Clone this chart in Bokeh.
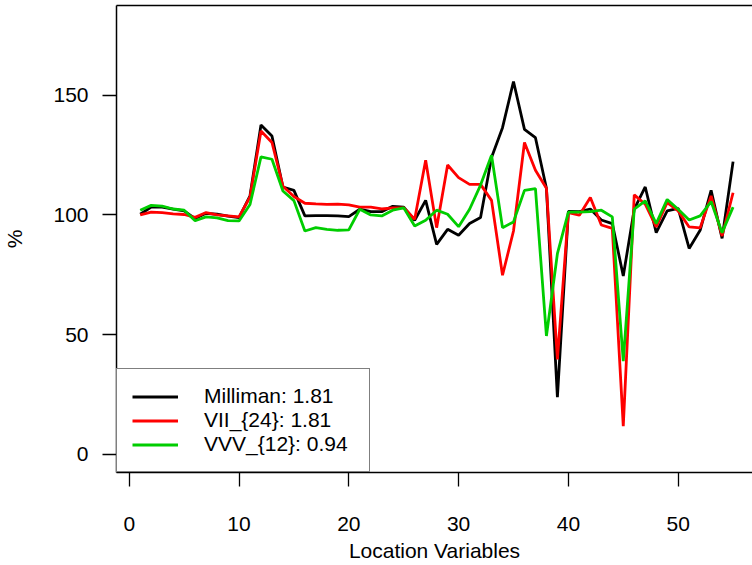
from bokeh.plotting import figure
from bokeh.models import Range1d, FixedTicker, LinearAxis, Legend, LegendItem
from bokeh.embed import file_html
from bokeh.resources import INLINE

x = list(range(1, 56))

milliman = [100.3, 103.3, 103.3, 102.4, 101.7, 98.5, 100.7, 100.3, 99.5, 98.9,
            108.0, 137.6, 133.0, 111.7, 110.3, 99.6, 99.7, 99.7, 99.6, 99.3,
            102.4, 101.4, 101.4, 103.6, 103.3, 97.8, 106.1, 87.7, 94.0, 91.5,
            96.4, 98.9, 124.0, 136.5, 155.8, 135.8, 132.3, 111.2, 23.8, 101.5,
            101.4, 102.5, 97.9, 96.4, 74.5, 102.4, 111.7, 92.6, 101.7, 102.8,
            86.0, 93.6, 110.3, 90.2, 122.3]

vii_24 = [100.0, 101.2, 101.0, 100.5, 100.2, 99.0, 101.0, 100.0, 99.6, 99.2,
          107.5, 135.1, 130.3, 112.0, 107.7, 104.9, 104.6, 104.4, 104.5, 104.2,
          103.3, 103.3, 102.5, 103.0, 103.0, 98.2, 122.9, 94.7, 120.9, 115.6,
          112.8, 112.8, 106.1, 74.8, 93.3, 130.3, 118.7, 111.2, 39.6, 101.0,
          99.9, 107.3, 95.8, 94.4, 11.7, 108.4, 104.5, 95.0, 105.2, 101.7,
          95.0, 94.6, 108.0, 91.2, 109.3]

vvv_12 = [102.0, 104.0, 103.7, 102.5, 102.0, 97.6, 99.2, 98.8, 97.6, 97.5,
          104.4, 124.3, 123.3, 110.0, 106.0, 93.3, 94.7, 94.0, 93.6, 93.8,
          102.4, 100.0, 99.6, 102.0, 103.0, 95.4, 97.8, 102.0, 100.3, 95.1,
          102.4, 112.5, 125.0, 94.7, 97.1, 110.3, 111.0, 49.4, 83.8, 101.2,
          101.2, 101.4, 102.0, 99.2, 38.9, 102.4, 105.9, 96.4, 106.5, 102.4,
          97.9, 99.6, 105.6, 92.6, 103.3]

labels = ["Milliman: 1.81", "VII_{24}: 1.81", "VVV_{12}: 0.94"]
colors = ["#000000", "#FF0000", "#00CD00"]
x_ticks = [0, 10, 20, 30, 40, 50]
y_ticks = [0, 50, 100, 150]

FONT = "Liberation Sans"
FS = "21px"

p = figure(width=752, height=565,
           x_range=Range1d(-1.16, 56.77), y_range=Range1d(-7.7, 187.6),
           output_backend="svg", toolbar_location=None,
           min_border_left=116, min_border_right=0,
           min_border_top=5, min_border_bottom=93)
p.xgrid.visible = False
p.ygrid.visible = False
p.outline_line_color = None
p.background_fill_color = "white"
p.border_fill_color = "white"

renderers = []
for series, col in zip([milliman, vii_24, vvv_12], colors):
    r = p.line(x, series, line_color=col, line_width=2.8)
    renderers.append(r)

for ax, ticks in ((p.xaxis[0], x_ticks), (p.yaxis[0], y_ticks)):
    ax.ticker = FixedTicker(ticks=ticks)
    ax.minor_tick_line_color = None
    ax.major_tick_in = 0
    ax.major_tick_out = 14
    ax.major_tick_line_width = 1.3
    ax.axis_line_width = 1.5
    ax.major_label_text_font = FONT
    ax.major_label_text_font_size = FS
    ax.major_label_text_color = "black"
    ax.axis_label_text_font = FONT
    ax.axis_label_text_font_size = FS
    ax.axis_label_text_font_style = "normal"
    ax.axis_label_text_color = "black"

p.xaxis[0].axis_label = "Location Variables"
p.xaxis[0].major_label_standoff = 30
p.xaxis[0].axis_label_standoff = 5
p.yaxis[0].axis_label = "%"
p.yaxis[0].major_label_standoff = 14
p.yaxis[0].axis_label_standoff = 24
p.yaxis[0].major_label_orientation = "horizontal"

top = LinearAxis(ticker=FixedTicker(ticks=[]), major_tick_out=0, major_tick_in=0,
                 minor_tick_line_color=None, major_label_text_font_size="0px",
                 major_label_standoff=0, axis_line_width=1.5)
p.add_layout(top, "above")

legend = Legend(items=[LegendItem(label=l, renderers=[r]) for l, r in zip(labels, renderers)],
                location=(0, 0), margin=0, padding=15, spacing=0,
                glyph_width=46, glyph_height=23, label_height=23, label_width=150,
                label_standoff=26,
                label_text_font=FONT, label_text_font_size=FS,
                label_text_color="black",
                border_line_color="black", border_line_width=1.5,
                background_fill_color="white", background_fill_alpha=1.0)
p.add_layout(legend, "center")

open("out.html", "w").write(file_html(p, INLINE))
